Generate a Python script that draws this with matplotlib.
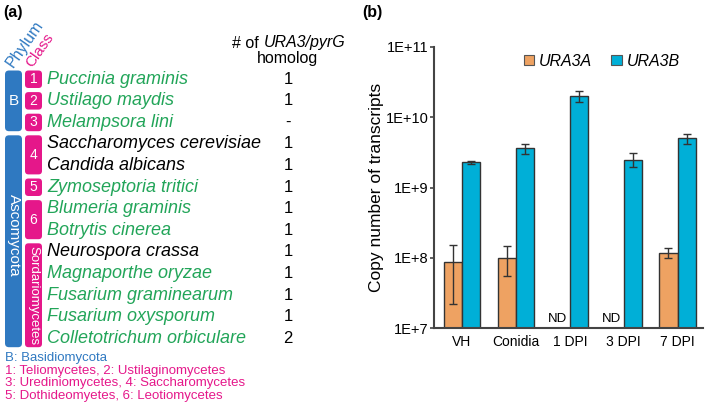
import numpy as np
import matplotlib
matplotlib.use('Agg')
import matplotlib.pyplot as plt
from matplotlib.patches import FancyBboxPatch, Patch
from matplotlib.ticker import FixedLocator, NullLocator

plt.rcParams['font.family'] = ['Liberation Sans', 'DejaVu Sans']

# ---- panel (a) data ----
species = ['Puccinia graminis', 'Ustilago maydis', 'Melampsora lini',
           'Saccharomyces cerevisiae', 'Candida albicans', 'Zymoseptoria tritici',
           'Blumeria graminis', 'Botrytis cinerea', 'Neurospora crassa',
           'Magnaporthe oryzae', 'Fusarium graminearum', 'Fusarium oxysporum',
           'Colletotrichum orbiculare']
homolog = ['1', '1', '-', '1', '1', '1', '1', '1', '1', '1', '1', '1', '2']
is_pathogen = [True, True, True, False, False, True, True, True, False,
               True, True, True, True]
# (label, first row, last row)
phyla = [('B', 0, 2), ('Ascomycota', 3, 12)]
classes = [('1', 0, 0), ('2', 1, 1), ('3', 2, 2), ('4', 3, 4), ('5', 5, 5),
           ('6', 6, 7), ('Sordariomycetes', 8, 12)]
notes = ['B: Basidiomycota',
         '1: Teliomycetes, 2: Ustilaginomycetes',
         '3: Urediniomycetes, 4: Saccharomycetes',
         '5: Dothideomyetes, 6: Leotiomycetes']

# ---- panel (b) data ----
stages = ['VH', 'Conidia', '1 DPI', '3 DPI', '7 DPI']
ura3a = [8.7e7, 1.0e8, np.nan, np.nan, 1.17e8]
ura3a_err = [6.5e7, 4.5e7, np.nan, np.nan, 1.9e7]
ura3b = [2.3e9, 3.6e9, 2.0e10, 2.5e9, 5.0e9]
ura3b_err = [1.2e8, 6e8, 3.5e9, 5.5e8, 8e8]

green = '#22a559'
blue_ph = '#2f79c1'
magenta = '#e5178a'
orange = '#eea262'
cyan = '#00afd7'

fig = plt.figure(figsize=(7.09, 4.07), dpi=100)

# overlay in pixel units for the table
ax0 = fig.add_axes([0, 0, 1, 1])
ax0.set_xlim(0, 709)
ax0.set_ylim(407, 0)
ax0.axis('off')

row_y = [79 + 21.6 * i for i in range(len(species))]

ax0.text(3, 12, '(a)', fontsize=11.5, fontweight='bold', va='center', ha='left')
ax0.text(13, 68, 'Phylum', color=blue_ph, fontsize=11.5, rotation=55,
         rotation_mode='anchor', ha='left', va='baseline')
ax0.text(32, 68, 'Class', color=magenta, fontsize=11, rotation=55,
         rotation_mode='anchor', ha='left', va='baseline')
ax0.text(263, 43, '# of ', fontsize=11.5, ha='right', va='center')
ax0.text(264, 43, 'URA3/pyrG', fontsize=11.5, style='italic', ha='left', va='center')
ax0.text(288, 59, 'homolog', fontsize=11.5, ha='center', va='center')

for name, first, last in phyla:
    top = row_y[first] - 8.5
    bot = row_y[last] + 9
    ax0.add_patch(FancyBboxPatch((5, top), 17, bot - top,
                                 boxstyle='round,pad=0,rounding_size=4',
                                 fc=blue_ph, ec='none'))
    if len(name) == 1:
        ax0.text(13.5, (top + bot) / 2, name, color='white', fontsize=11,
                 ha='center', va='center')
    else:
        ax0.text(13.5, (top + bot) / 2 - 6, name, color='white', fontsize=11,
                 ha='center', va='center', rotation=-90)

for name, first, last in classes:
    top = row_y[first] - 8.5
    bot = row_y[last] + 9
    ax0.add_patch(FancyBboxPatch((25, top), 17, bot - top,
                                 boxstyle='round,pad=0,rounding_size=3.5',
                                 fc=magenta, ec='none'))
    rot = -90 if len(name) > 1 else 0
    ax0.text(33.5, (top + bot) / 2, name, color='white', fontsize=10 if rot == 0 else 9.5,
             ha='center', va='center', rotation=rot)

for y, sp, h, g in zip(row_y, species, homolog, is_pathogen):
    ax0.text(47, y, sp, style='italic', fontsize=13, color=green if g else 'black',
             ha='left', va='center')
    ax0.text(288, y, h, fontsize=12, ha='center', va='center')

for i, line in enumerate(notes):
    ax0.text(5, 358 + 12.6 * i, line, fontsize=9.5, ha='left', va='center',
             color=blue_ph if i == 0 else magenta)

ax0.text(362, 12, '(b)', fontsize=11.5, fontweight='bold', va='center', ha='left')

# ---- panel (b) ----
ax = fig.add_axes([434 / 709, 1 - 328 / 407, 269 / 709, 281 / 407])
ax.set_yscale('log')
base = 1e7
x = np.arange(len(stages))
w = 0.34
ax.bar(x - w / 2, np.array(ura3a) - base, w, bottom=base, color=orange,
       edgecolor='#333333', linewidth=1, yerr=ura3a_err, capsize=3,
       error_kw=dict(elinewidth=1, capthick=1, ecolor='#333333'))
ax.bar(x + w / 2, np.array(ura3b) - base, w, bottom=base, color=cyan,
       edgecolor='#333333', linewidth=1, yerr=ura3b_err, capsize=3,
       error_kw=dict(elinewidth=1, capthick=1, ecolor='#333333'))
for xi, v in zip(x, ura3a):
    if np.isnan(v):
        ax.text(xi - w / 2 - 0.05, 1.12e7, 'ND', fontsize=9.5, ha='center', va='bottom')

ax.set_ylim(1e7, 1e11)
ax.set_xlim(-0.52, 4.47)
ax.yaxis.set_major_locator(FixedLocator([1e7, 1e8, 1e9, 1e10, 1e11]))
ax.yaxis.set_minor_locator(NullLocator())
ax.set_yticklabels(['1E+7', '1E+8', '1E+9', '1E+10', '1E+11'])
ax.set_xticks(x)
ax.set_xticklabels(stages)
ax.tick_params(axis='y', labelsize=10.5, length=3, width=1.2, color='#444444', pad=1)
ax.tick_params(axis='x', labelsize=10, length=0, pad=5)
for s in ['top', 'right']:
    ax.spines[s].set_visible(False)
for s in ['left', 'bottom']:
    ax.spines[s].set_linewidth(1.5)
    ax.spines[s].set_color('#444444')
ax.set_ylabel('Copy number of transcripts', fontsize=12.5, labelpad=1)

handles = [Patch(fc=orange, ec='#555555', lw=0.8), Patch(fc=cyan, ec='#555555', lw=0.8)]
leg = ax.legend(handles, ['URA3A', 'URA3B'], ncol=2, frameon=False, loc='center left',
                bbox_to_anchor=(0.334, 0.95), borderaxespad=0, borderpad=0,
                handlelength=0.65, handleheight=0.65, handletextpad=0.3,
                columnspacing=1.2, prop=dict(size=11.5, style='italic'))

fig.savefig('out.png', dpi=100)
